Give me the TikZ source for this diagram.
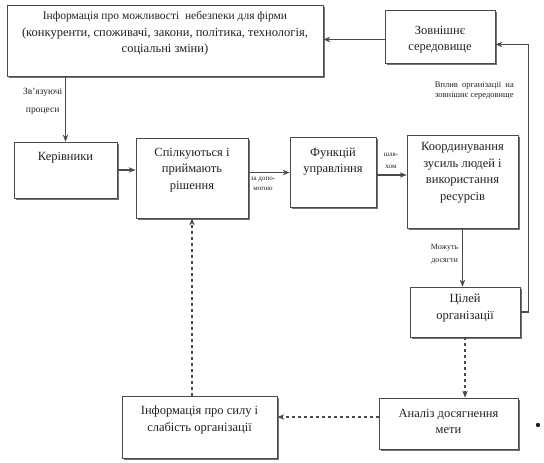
\documentclass[tikz,border=0pt]{standalone}
\usepackage{fontspec}
\setmainfont{Liberation Serif}
\usetikzlibrary{positioning,calc,shadows,arrows.meta}
\definecolor{ink}  {HTML}{222222}
\definecolor{rule} {HTML}{4A4A4A}
\tikzset{
  >=stealth,
  % --- nodes
  box/.style  = {draw=rule, fill=white, line width=0.7pt, inner sep=0pt,
                 drop shadow={shadow xshift=1.8pt, shadow yshift=-1.8pt,
                              fill=black!55, opacity=1}},
  txt/.style  = {align=center, text=ink, inner sep=0pt,
                 font=\fontsize{12.5}{16.5}\selectfont},
  lbl/.style  = {align=center, text=ink, inner sep=0pt,
                 font=\fontsize{8}{12}\selectfont},
  % --- edges
  e/.style    = {-{Stealth[length=7pt,width=5.5pt]}, line width=1.1pt, draw=rule},
  ed/.style   = {e, dashed},
}
\newcommand{\blk}[7]{%
  \node[box, minimum width=#4pt, minimum height=#5pt] (#1) at (#2,#3) {};
  \node[txt] (#1-t) at ([yshift=#6pt]#1.center) {#7};}

\begin{document}
\begin{tikzpicture}[x=1pt,y=-1pt]
  \useasboundingbox (0,0) rectangle (544,463);

  % boxes: name, x, y, width, height, text lift, text
  \blk{info}{165}{40.5}{316}{71}{7}{\fontsize{11.5}{17}\selectfont
    Інформація про можливості~ небезпеки для фірми\\
    (конкуренти, споживачі, закони, політика, технологія,\\
    соціальні зміни)}
  \blk{env}{440}{36.5}{110}{53}{-3}{Зовнішнє\\середовище}
  \blk{lead}{65.5}{170}{103}{56}{12}{Керівники}
  \blk{talk}{192}{178}{112}{80}{8}{Спілкуються і\\приймають\\рішення}
  \blk{func}{333}{172.5}{86}{70}{11}{Функцій\\управління}
  \blk{coord}{462.5}{181.5}{111}{93}{8.5}{Координування\\зусиль людей і\\використання\\ресурсів}
  \blk{goals}{465}{312}{110}{50}{4}{Цілей\\організації}
  \blk{review}{448.5}{423.5}{139}{51}{2}{Аналіз досягнення\\мети}
  \blk{infostr}{199.5}{427}{155}{62}{7}{Інформація про силу і\\слабість організації}

  % upper flow
  \draw[e] ([yshift=-3pt]env.west) -- ([yshift=-3pt]env.west -| info.east);
  \draw[e] (info.south -| lead.north) -- (lead.north);
  \node[lbl, anchor=north east, font=\fontsize{9.5}{18}\selectfont] (linklbl)
    at ([xshift=-3pt, yshift=-12pt]info.south -| lead.north) {Зв'язуючі\\процеси};
  \draw[e] (lead.east) -- (lead.east -| talk.west);
  \draw[e] (func.west -| talk.east) -- (func.west);
  \node[lbl, anchor=north, font=\fontsize{7}{10}\selectfont] (helplbl)
    at (263,177) {за допо-\\могою};
  \draw[e] ([yshift=-2.5pt]func.east) -- ([yshift=-2.5pt]func.east -| coord.west);
  \node[lbl, font=\fontsize{7}{12}\selectfont] (waylbl) at (391,161) {шля-\\хом};
  \draw[e] (coord.south) -- (coord.south |- goals.north);
  \node[lbl, anchor=east, font=\fontsize{8}{13}\selectfont] (reachlbl)
    at ([xshift=-4pt]coord.south |- 0,254) {Можуть\\досягти};

  % feedback to the environment
  \draw[e] (goals.east) -- ++(8,0) |- ($(env.east)+(0,8)$);
  \node[lbl, anchor=north east, font=\fontsize{8.5}{10}\selectfont] (effectlbl)
    at (514,82) {Вплив~ організації~ на\\зовнішнє середовище};

  % lower loop
  \draw[ed] (goals.south) -- (goals.south |- review.north);
  \draw[ed] ([yshift=6.5pt]review.west) -- ([yshift=6.5pt]review.west -| infostr.east);
  \draw[ed] (infostr.north -| talk.south) -- (talk.south);

  \fill[ink] (538,425) circle (2.2pt);
\end{tikzpicture}
\end{document}
